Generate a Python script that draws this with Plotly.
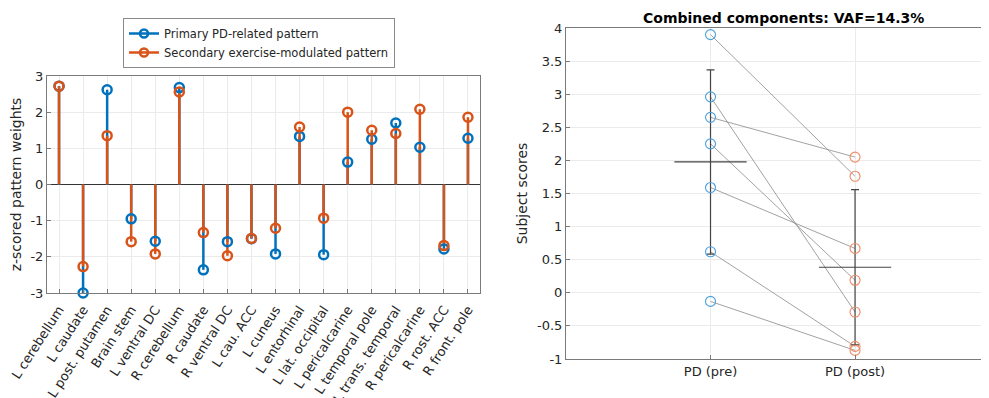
import plotly.graph_objects as go
import numpy as np

regions = ["L cerebellum", "L caudate", "L post. putamen", "Brain stem", "L ventral DC",
           "R cerebellum", "R caudate", "R ventral DC", "L cau. ACC", "L cuneus",
           "L entorhinal", "L lat. occipital", "L pericalcarine", "L temporal pole",
           "L trans. temporal", "R pericalcarine", "R rost. ACC", "R front. pole"]
primary = [2.72, -3.00, 2.62, -0.95, -1.57, 2.68, -2.36, -1.58, -1.50, -1.92,
           1.33, -1.94, 0.62, 1.25, 1.70, 1.03, -1.78, 1.28]
secondary = [2.72, -2.27, 1.35, -1.58, -1.92, 2.56, -1.33, -1.97, -1.49, -1.21,
             1.59, -0.93, 2.00, 1.50, 1.41, 2.08, -1.69, 1.86]
left_ticks = [-3, -2, -1, 0, 1, 2, 3]

groups = ["PD (pre)", "PD (post)"]
pre_scores = [3.90, 2.96, 2.65, 2.25, 1.59, 0.62, -0.13]
post_scores = [1.76, -0.29, 2.05, 0.19, 0.67, -0.81, -0.87]
right_ticks = [-1, -0.5, 0, 0.5, 1, 1.5, 2, 2.5, 3, 3.5, 4]
title_text = "Combined components: VAF=14.3%"

BLUE = "#0072BD"
ORANGE = "#D95319"
FONT = "DejaVu Sans"

def fmt(v):
    return ("%g" % v)

W, H = 989, 398
OFF = 8  # page body margin

def fx(p):
    return (p - OFF) / W

def fy(p):
    return 1 - (p - OFF) / H

fig = go.Figure()

def stems(vals):
    xs, ys = [], []
    for i, v in enumerate(vals):
        xs += [i + 1, i + 1, None]
        ys += [0, v, None]
    return xs, ys

pos = list(range(1, len(regions) + 1))
for vals, col in [(primary, BLUE), (secondary, ORANGE)]:
    sx, sy = stems(vals)
    fig.add_trace(go.Scatter(x=sx, y=sy, mode="lines", line=dict(color=col, width=2.5),
                             showlegend=False, hoverinfo="skip", xaxis="x", yaxis="y"))
for vals, col in [(primary, BLUE), (secondary, ORANGE)]:
    fig.add_trace(go.Scatter(x=pos, y=vals, mode="markers", cliponaxis=False,
                             marker=dict(symbol="circle-open", size=9, color=col,
                                         line=dict(width=2.5, color=col)),
                             showlegend=False, xaxis="x", yaxis="y"))
for col, name in [(BLUE, "Primary PD-related pattern"),
                  (ORANGE, "Secondary exercise-modulated pattern")]:
    fig.add_trace(go.Scatter(x=[None], y=[None], mode="lines+markers", name=name,
                             line=dict(color=col, width=2.5),
                             marker=dict(symbol="circle-open", size=8, color=col,
                                         line=dict(width=2.5, color=col)),
                             xaxis="x", yaxis="y"))

# Right panel
for a, b in zip(pre_scores, post_scores):
    fig.add_trace(go.Scatter(x=[1, 2], y=[a, b], mode="lines",
                             line=dict(color="#8a8a8a", width=0.8),
                             showlegend=False, hoverinfo="skip", xaxis="x2", yaxis="y2"))
for gi, sc in enumerate([pre_scores, post_scores]):
    c = gi + 1
    m = float(np.mean(sc))
    s = float(np.std(sc, ddof=1))
    fig.add_trace(go.Scatter(x=[c], y=[m], mode="markers", marker=dict(size=0.1, color="rgba(0,0,0,0)"),
                             error_y=dict(type="data", array=[s], visible=True, color="#444444",
                                          thickness=1.2, width=4),
                             showlegend=False, xaxis="x2", yaxis="y2"))
    fig.add_trace(go.Scatter(x=[c - 0.25, c + 0.25], y=[m, m], mode="lines",
                             line=dict(color="#444444", width=1.2),
                             showlegend=False, xaxis="x2", yaxis="y2"))
fig.add_trace(go.Scatter(x=[1] * len(pre_scores), y=pre_scores, mode="markers", cliponaxis=False,
                         marker=dict(symbol="circle-open", size=10, color="#4aa0e0",
                                     line=dict(width=1.1, color="#4aa0e0")),
                         showlegend=False, xaxis="x2", yaxis="y2"))
fig.add_trace(go.Scatter(x=[2] * len(post_scores), y=post_scores, mode="markers", cliponaxis=False,
                         marker=dict(symbol="circle-open", size=10, color="#ee8a62",
                                     line=dict(width=1.1, color="#ee8a62")),
                         showlegend=False, xaxis="x2", yaxis="y2"))

axcommon = dict(showline=True, mirror=True, linecolor="#7a7a7a", linewidth=1,
                ticks="inside", ticklen=4, tickcolor="#7a7a7a",
                showgrid=True, gridcolor="#ebebeb", gridwidth=1, automargin=False,
                tickfont=dict(family=FONT, size=13, color="#262626"), zeroline=False)

fig.update_layout(
    width=W, height=H, margin=dict(l=0, r=0, t=0, b=0, autoexpand=False),
    paper_bgcolor="white", plot_bgcolor="white",
    font=dict(family=FONT, color="#262626"),
    xaxis=dict(axcommon, domain=[fx(47), fx(480)], range=[0.5, 18.5],
               tickmode="array", tickvals=pos, ticktext=regions, tickangle=-57,
               ticklabelstandoff=3, anchor="y"),
    yaxis=dict(axcommon, domain=[fy(293), fy(76)], range=[-3, 3],
               tickmode="array", tickvals=left_ticks, ticktext=[fmt(v) for v in left_ticks],
               zeroline=True, zerolinecolor="#333333", zerolinewidth=1,
               title=dict(text="z-scored pattern weights", font=dict(family=FONT, size=14),
                          standoff=6),
               anchor="x"),
    xaxis2=dict(axcommon, domain=[fx(566), fx(988)], range=[0, 2.92],
                tickmode="array", tickvals=[1, 2], ticktext=groups, anchor="y2"),
    yaxis2=dict(axcommon, domain=[fy(359), fy(28)], range=[-1, 4],
                tickmode="array", tickvals=right_ticks, ticktext=[fmt(v) for v in right_ticks],
                title=dict(text="Subject scores", font=dict(family=FONT, size=14), standoff=6),
                anchor="x2"),
    legend=dict(x=fx(123), y=fy(18), xanchor="left", yanchor="top",
                bgcolor="white", bordercolor="#8a8a8a", borderwidth=1,
                font=dict(family=FONT, size=11.5, color="#262626"),
                tracegroupgap=0, itemwidth=30),
    annotations=[dict(text="<b>" + title_text + "</b>", x=fx(783), y=fy(18),
                      xref="paper", yref="paper", showarrow=False,
                      font=dict(family=FONT, size=14, color="black"),
                      xanchor="center", yanchor="middle")],
)

fig.write_html("out.html")
